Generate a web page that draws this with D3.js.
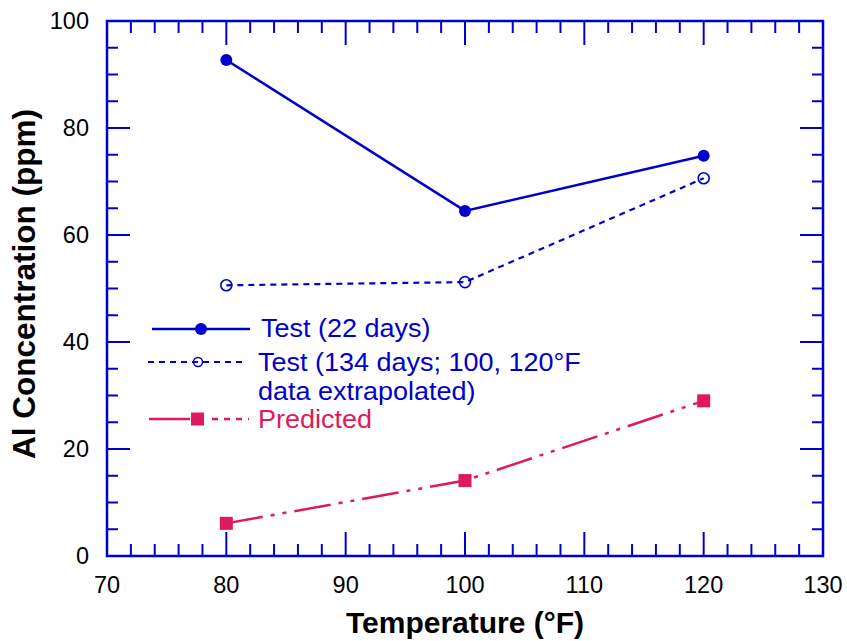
<!DOCTYPE html>
<html>
<head>
<meta charset="utf-8">
<script src="https://cdn.jsdelivr.net/npm/d3@7"></script>
<style>
  body { margin: 0; background: #fff; }
  text { font-family: "Liberation Sans", Arial, sans-serif; }
</style>
</head>
<body>
<div id="container"></div>
<script>
var width = 847;
var height = 641;
var margin = {left: 107, right: 24, top: 21, bottom: 85};

var BLUE = "#0000cc";
var PINK = "#e01a5a";

var temps = [80, 100, 120];
var test22 = [92.7, 64.5, 74.8];
var test134 = [50.6, 51.2, 70.6];
var predicted = [6.1, 14.1, 29.0];

var xTicks = [70, 80, 90, 100, 110, 120, 130];
var yTicks = [0, 20, 40, 60, 80, 100];

const SVG = d3.select("#container")
              .append("svg")
              .attr("width", width)
              .attr("height", height);

const x = d3.scaleLinear().domain([70, 130]).range([margin.left, width - margin.right]);
const y = d3.scaleLinear().domain([0, 100]).range([height - margin.bottom, margin.top]);

var x0 = x(70), x1 = x(130), y0 = y(0), y1 = y(100);

// ticks on all four sides, pointing inward
var xMinor = d3.range(70, 130.1, 2);
var yMinor = d3.range(0, 100.1, 5);

function xLen(v) { return v % 10 === 0 ? 24 : 12; }
function yLen(v) { return v % 20 === 0 ? 23 : 11; }

var ticks = SVG.append("g").attr("stroke", BLUE).attr("stroke-width", 2);
ticks.selectAll(".xb").data(xMinor).enter().append("line")
     .attr("x1", d => x(d)).attr("x2", d => x(d))
     .attr("y1", y0).attr("y2", d => y0 - xLen(d));
ticks.selectAll(".xt").data(xMinor).enter().append("line")
     .attr("x1", d => x(d)).attr("x2", d => x(d))
     .attr("y1", y1).attr("y2", d => y1 + xLen(d));
ticks.selectAll(".yl").data(yMinor).enter().append("line")
     .attr("y1", d => y(d)).attr("y2", d => y(d))
     .attr("x1", x0).attr("x2", d => x0 + yLen(d));
ticks.selectAll(".yr").data(yMinor).enter().append("line")
     .attr("y1", d => y(d)).attr("y2", d => y(d))
     .attr("x1", x1).attr("x2", d => x1 - yLen(d));

SVG.append("rect")
   .attr("x", x0).attr("y", y1)
   .attr("width", x1 - x0).attr("height", y0 - y1)
   .attr("fill", "none").attr("stroke", BLUE).attr("stroke-width", 2.5);

// tick labels
SVG.selectAll(".xl").data(xTicks).enter().append("text")
   .attr("x", d => x(d)).attr("y", y0 + 37)
   .attr("text-anchor", "middle").attr("font-size", 23.5)
   .text(d => d);
SVG.selectAll(".ylab").data(yTicks).enter().append("text")
   .attr("x", x0 - 18).attr("y", d => y(d) + 8)
   .attr("text-anchor", "end").attr("font-size", 23.5)
   .text(d => d);

// axis titles
SVG.append("text")
   .attr("x", (x0 + x1) / 2).attr("y", 633)
   .attr("text-anchor", "middle").attr("font-size", 30).attr("font-weight", "bold")
   .text("Temperature (°F)");
SVG.append("text")
   .attr("transform", "translate(35,284) rotate(-90)")
   .attr("text-anchor", "middle").attr("font-size", 31.5).attr("font-weight", "bold")
   .text("Al Concentration (ppm)");

const line = d3.line().x(d => x(d[0])).y(d => y(d[1]));

function pairs(vals) { return temps.map((t, i) => [t, vals[i]]); }

// Test 22 days
SVG.append("path").datum(pairs(test22)).attr("d", line)
   .attr("fill", "none").attr("stroke", BLUE).attr("stroke-width", 2.5);
SVG.selectAll(".p22").data(pairs(test22)).enter().append("circle")
   .attr("cx", d => x(d[0])).attr("cy", d => y(d[1])).attr("r", 6).attr("fill", BLUE);

// Test 134 days
SVG.append("path").datum(pairs(test134)).attr("d", line)
   .attr("fill", "none").attr("stroke", BLUE).attr("stroke-width", 2.2)
   .attr("stroke-dasharray", "6,5");
SVG.selectAll(".p134").data(pairs(test134)).enter().append("circle")
   .attr("cx", d => x(d[0])).attr("cy", d => y(d[1])).attr("r", 5.5)
   .attr("fill", "none").attr("stroke", BLUE).attr("stroke-width", 1.6);

// Predicted
SVG.append("path").datum(pairs(predicted)).attr("d", line)
   .attr("fill", "none").attr("stroke", PINK).attr("stroke-width", 2.5)
   .attr("stroke-dasharray", "37,8,4,8,4,8");
SVG.selectAll(".pp").data(pairs(predicted)).enter().append("rect")
   .attr("x", d => x(d[0]) - 6.5).attr("y", d => y(d[1]) - 6.5)
   .attr("width", 13).attr("height", 13).attr("fill", PINK);

// legend
var lg = SVG.append("g");
function legendText(xp, yp, col, s) {
  lg.append("text").attr("transform", "translate(" + xp + "," + yp + ") scale(1.08,1)")
    .attr("font-size", 25).attr("fill", col).text(s);
}
lg.append("line").attr("x1", 152).attr("x2", 250).attr("y1", 329).attr("y2", 329)
  .attr("stroke", BLUE).attr("stroke-width", 2.5);
lg.append("circle").attr("cx", 201).attr("cy", 329).attr("r", 6).attr("fill", BLUE);
legendText(261, 337, BLUE, "Test (22 days)");

lg.append("line").attr("x1", 148).attr("x2", 247).attr("y1", 362).attr("y2", 362)
  .attr("stroke", BLUE).attr("stroke-width", 2).attr("stroke-dasharray", "6,5");
lg.append("circle").attr("cx", 198).attr("cy", 362).attr("r", 4.5)
  .attr("fill", "none").attr("stroke", BLUE).attr("stroke-width", 1.5);
legendText(258, 371, BLUE, "Test (134 days; 100, 120°F");
legendText(258, 400, BLUE, "data extrapolated)");

lg.append("line").attr("x1", 149).attr("x2", 190).attr("y1", 419).attr("y2", 419)
  .attr("stroke", PINK).attr("stroke-width", 2.5);
lg.append("line").attr("x1", 212).attr("x2", 249).attr("y1", 419).attr("y2", 419)
  .attr("stroke", PINK).attr("stroke-width", 2.5).attr("stroke-dasharray", "6,6");
lg.append("rect").attr("x", 191).attr("y", 412.5).attr("width", 13).attr("height", 13).attr("fill", PINK);
legendText(258, 428, PINK, "Predicted");
</script>
</body>
</html>
